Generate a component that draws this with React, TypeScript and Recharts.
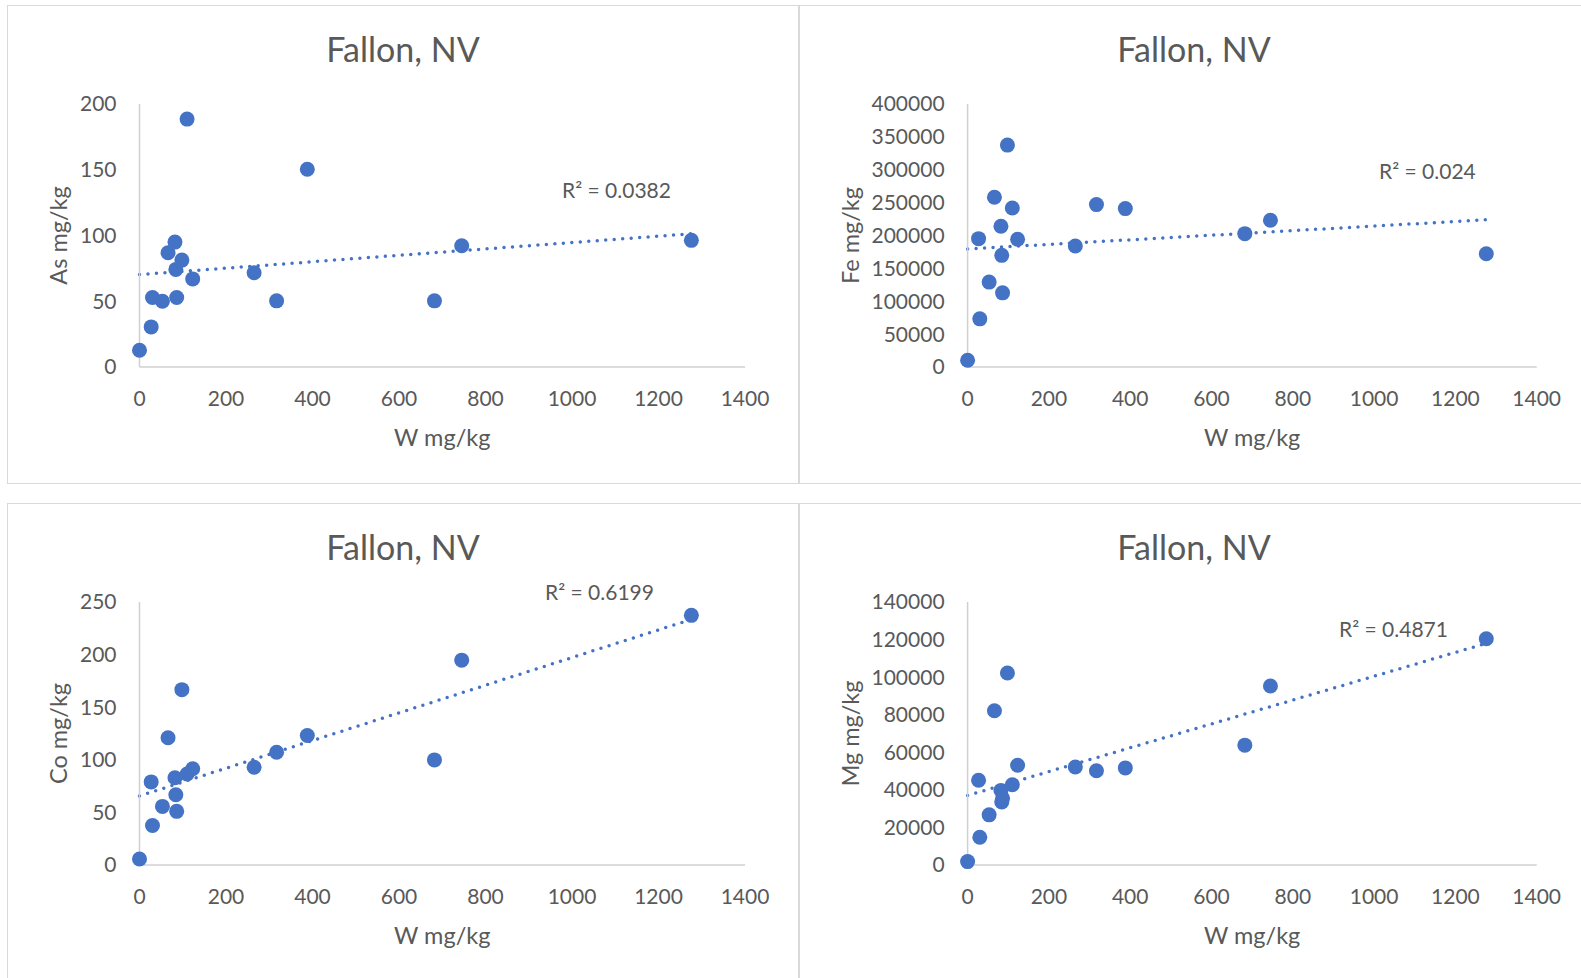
import React from "react";
import { ScatterChart, Scatter, XAxis, YAxis, ReferenceLine, Label } from "recharts";

// W concentration (shared x values for every panel), mg/kg
const wValues = [0, 27, 30, 53, 66, 82, 84, 86, 98, 110, 123, 265, 317, 388, 682, 745, 1276];

// element concentrations, same sample order as wValues
const asValues = [12.7, 30.5, 52.9, 50, 86.9, 95, 74.2, 52.9, 81.3, 188.5, 67, 71.7, 50.3, 150.4, 50.3, 92.2, 96.3];
const feValues = [10200, 195200, 73200, 129100, 258200, 214000, 169800, 112800, 337500, 241900, 194200, 184000, 247000, 240900, 202800, 223100, 172300];
const coValues = [5.7, 79, 37.5, 55.7, 120.9, 83, 66.8, 51, 166.7, 86.5, 91.5, 92.9, 107.2, 123.1, 99.9, 194.7, 237.3];
const mgValues = [1800, 45100, 14800, 26700, 82100, 39700, 33500, 35500, 102200, 42700, 53100, 52200, 50200, 51700, 63800, 95300, 120400];

const xTicks = [0, 200, 400, 600, 800, 1000, 1200, 1400];
const asTicks = [0, 50, 100, 150, 200];
const feTicks = [0, 50000, 100000, 150000, 200000, 250000, 300000, 350000, 400000];
const coTicks = [0, 50, 100, 150, 200, 250];
const mgTicks = [0, 20000, 40000, 60000, 80000, 100000, 120000, 140000];

const asR2 = "R² = 0.0382";
const feR2 = "R² = 0.024";
const coR2 = "R² = 0.6199";
const mgR2 = "R² = 0.4871";

const BLUE = "#4472C4";
const TEXT = "#595959";
const FONT = "Lato, 'Open Sans', sans-serif";

function fitLine(xs: number[], ys: number[]) {
  const n = xs.length;
  const mx = xs.reduce((a, b) => a + b, 0) / n;
  const my = ys.reduce((a, b) => a + b, 0) / n;
  let sxy = 0;
  let sxx = 0;
  for (let i = 0; i < n; i++) {
    sxy += (xs[i] - mx) * (ys[i] - my);
    sxx += (xs[i] - mx) * (xs[i] - mx);
  }
  const slope = sxy / sxx;
  return { slope, intercept: my - slope * mx };
}

interface PanelProps {
  left: number;
  top: number;
  width: number;
  axisWidth: number;
  rightMargin: number;
  yTitle: string;
  yTitleOffset: number;
  values: number[];
  yTicks: number[];
  r2: string;
  r2Left: number;
  r2Top: number;
}

const PANEL_H = 479;

function Panel({
  left,
  top,
  width,
  axisWidth,
  rightMargin,
  yTitle,
  yTitleOffset,
  values,
  yTicks,
  r2,
  r2Left,
  r2Top,
}: PanelProps) {
  const data = wValues.map((w, i) => ({ x: w, y: values[i] }));
  const { slope, intercept } = fitLine(wValues, values);
  const x0 = Math.min(...wValues);
  const x1 = Math.max(...wValues);
  const yMax = yTicks[yTicks.length - 1];

  const renderXTitle = (props: any) => {
    const vb = props.viewBox;
    return (
      <text
        x={vb.x + vb.width / 2}
        y={vb.y + 70}
        textAnchor="middle"
        dominantBaseline="central"
        fill={TEXT}
        style={{ fontSize: 23.5, fontFamily: FONT }}
      >
        W mg/kg
      </text>
    );
  };

  const renderYTitle = (props: any) => {
    const vb = props.viewBox;
    const x = vb.x + vb.width - yTitleOffset;
    const y = vb.y + vb.height / 2;
    return (
      <text
        x={x}
        y={y}
        transform={`rotate(-90, ${x}, ${y})`}
        textAnchor="middle"
        dominantBaseline="central"
        fill={TEXT}
        style={{ fontSize: 23.5, fontFamily: FONT }}
      >
        {yTitle}
      </text>
    );
  };

  return (
    <div
      style={{
        position: "absolute",
        left,
        top,
        width,
        height: PANEL_H,
        border: "1.5px solid #d9d9d9",
        boxSizing: "border-box",
        background: "#fff",
      }}
    >
      <div
        style={{
          position: "absolute",
          left: 0,
          right: 0,
          top: 43 - 20,
          height: 40,
          lineHeight: "40px",
          textAlign: "center",
          fontSize: 34,
          color: TEXT,
          fontFamily: FONT,
        }}
      >
        Fallon, NV
      </div>
      <div
        style={{
          position: "absolute",
          left: r2Left,
          top: r2Top - 13,
          height: 26,
          lineHeight: "26px",
          fontSize: 21,
          color: TEXT,
          fontFamily: FONT,
          whiteSpace: "nowrap",
        }}
      >
        {r2}
      </div>
      <div style={{ position: "absolute", left: -1.5, top: -1.5 }}>
        <ScatterChart
          width={width}
          height={PANEL_H}
          margin={{ top: 99, right: rightMargin, bottom: 0, left: 0 }}
        >
          <XAxis
            type="number"
            dataKey="x"
            domain={[0, 1400]}
            ticks={xTicks}
            height={117}
            tickLine={false}
            tickSize={6}
            tickMargin={18}
            axisLine={{ stroke: "#d0d0d0", strokeWidth: 1.5 }}
            tick={{ fill: TEXT, fontSize: 21, fontFamily: FONT }}
          >
            <Label content={renderXTitle} />
          </XAxis>
          <YAxis
            type="number"
            dataKey="y"
            domain={[0, yMax]}
            ticks={yTicks}
            width={axisWidth}
            tickLine={false}
            tickSize={6}
            tickMargin={17}
            axisLine={{ stroke: "#d0d0d0", strokeWidth: 1.5 }}
            tick={{ fill: TEXT, fontSize: 21, fontFamily: FONT }}
          >
            <Label content={renderYTitle} />
          </YAxis>
          <Scatter
            data={data}
            isAnimationActive={false}
            shape={(p: any) => <circle cx={p.cx} cy={p.cy} r={7.5} fill={BLUE} />}
          />
          <ReferenceLine
            segment={[
              { x: x0, y: intercept + slope * x0 },
              { x: x1, y: intercept + slope * x1 },
            ]}
            stroke={BLUE}
            strokeWidth={3.5}
            strokeDasharray="0 8.5"
            strokeLinecap="round"
          />
        </ScatterChart>
      </div>
    </div>
  );
}

export default function App() {
  return (
    <div
      style={{
        position: "absolute",
        left: 0,
        top: 0,
        width: 1581,
        height: 978,
        overflow: "hidden",
        background: "#fff",
      }}
    >
      <Panel
        left={7}
        top={5}
        width={792}
        axisWidth={132.5}
        rightMargin={54}
        yTitle="As mg/kg"
        yTitleOffset={81.5}
        values={asValues}
        yTicks={asTicks}
        r2={asR2}
        r2Left={554}
        r2Top={184}
      />
      <Panel
        left={799}
        top={5}
        width={790}
        axisWidth={168.6}
        rightMargin={52.3}
        yTitle="Fe mg/kg"
        yTitleOffset={118}
        values={feValues}
        yTicks={feTicks}
        r2={feR2}
        r2Left={579}
        r2Top={164.5}
      />
      <Panel
        left={7}
        top={503}
        width={792}
        axisWidth={132.5}
        rightMargin={54}
        yTitle="Co mg/kg"
        yTitleOffset={82}
        values={coValues}
        yTicks={coTicks}
        r2={coR2}
        r2Left={537}
        r2Top={88}
      />
      <Panel
        left={799}
        top={503}
        width={790}
        axisWidth={168.6}
        rightMargin={52.3}
        yTitle="Mg mg/kg"
        yTitleOffset={118}
        values={mgValues}
        yTicks={mgTicks}
        r2={mgR2}
        r2Left={539}
        r2Top={125}
      />
    </div>
  );
}
